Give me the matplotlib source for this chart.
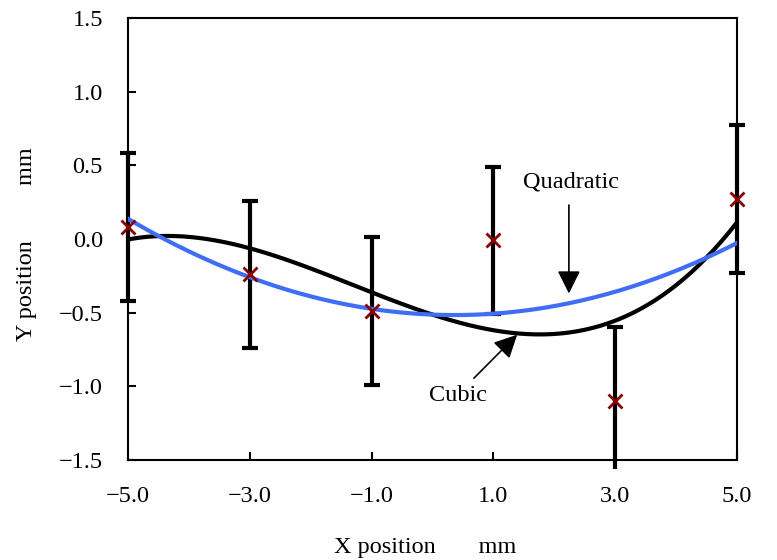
import numpy as np
import matplotlib
matplotlib.use("Agg")
import matplotlib.pyplot as plt
from matplotlib.patches import Rectangle

# measured points (mm) with +/- error
x_pos = [-5.0, -3.0, -1.0, 1.0, 3.0, 5.0]
y_pos = [0.08, -0.24, -0.49, -0.01, -1.10, 0.27]
y_err = [0.5, 0.5, 0.5, 0.5, 0.5, 0.5]

x_ticks = [-5.0, -3.0, -1.0, 1.0, 3.0, 5.0]
y_ticks = [-1.5, -1.0, -0.5, 0.0, 0.5, 1.0, 1.5]

plt.rcParams['font.family'] = ['Liberation Serif', 'DejaVu Serif']
plt.rcParams['font.size'] = 17.5

fig = plt.figure(figsize=(7.77, 5.6), dpi=100)
ax = fig.add_axes([0.1647, 0.1786, 0.7838, 0.7894])

# least-squares fits through the measured points
xs = np.linspace(-5, 5, 300)
cubic = np.poly1d(np.polyfit(x_pos, y_pos, 3))
quad = np.poly1d(np.polyfit(x_pos, y_pos, 2))

eb = ax.errorbar(x_pos, y_pos, yerr=y_err, fmt='none', ecolor='black',
                 elinewidth=3, capsize=6, capthick=3, zorder=2)
# let bars spill a little past the frame, like the original
clip = Rectangle((-0.03, -0.02), 1.06, 1.04, transform=ax.transAxes)
for art in eb.get_children():
    art.set_clip_path(clip)

ax.plot(xs, cubic(xs), color='black', lw=3, zorder=3)
ax.plot(xs, quad(xs), color='#3f6ef5', lw=3, zorder=4)
ax.plot(x_pos, y_pos, 'x', color='#8b0000', ms=10, mew=2, zorder=5,
        clip_on=False)

arrow = dict(arrowstyle='-|>,head_length=0.5,head_width=0.25',
             color='black', lw=1.2, mutation_scale=28,
             shrinkA=0, shrinkB=0)
ax.annotate('', xy=(2.24, -0.37), xytext=(2.24, 0.23), arrowprops=arrow)
ax.text(2.27, 0.387, 'Quadratic', ha='center', va='center')
ax.annotate('', xy=(1.39, -0.65), xytext=(0.68, -0.945), arrowprops=arrow)
ax.text(0.42, -1.06, 'Cubic', ha='center', va='center')

ax.set_xlim(-5, 5)
ax.set_ylim(-1.5, 1.5)
ax.set_xticks(x_ticks)
ax.set_yticks(y_ticks)
ax.set_xticklabels([('%.1f' % v).replace('-', '\u2212') for v in x_ticks])
ax.set_yticklabels([('%.1f' % v).replace('-', '\u2212') for v in y_ticks])
ax.tick_params(direction='in', length=6, width=1.5)
ax.tick_params(axis='x', pad=19)
ax.tick_params(axis='y', pad=18)
for s in ax.spines.values():
    s.set_linewidth(1.5)

ax.set_xlabel('X position       mm')
ax.set_ylabel('Y position         mm')
ax.xaxis.set_label_coords(0.488, -0.174)
ax.yaxis.set_label_coords(-0.149, 0.489)

fig.savefig('out.png', dpi=100)
